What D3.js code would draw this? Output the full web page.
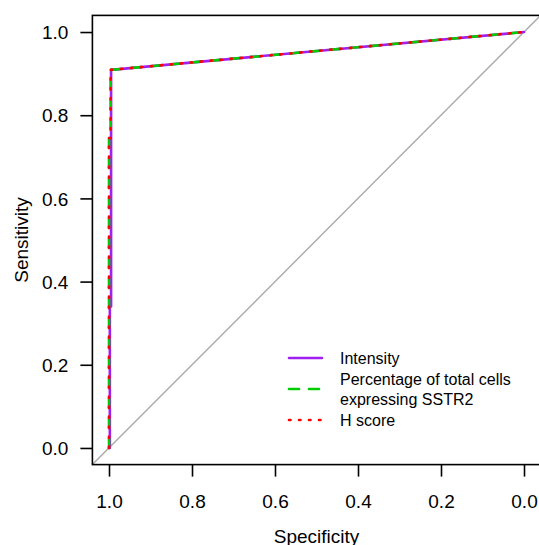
<!DOCTYPE html>
<html>
<head>
<meta charset="utf-8">
<script src="https://cdn.jsdelivr.net/npm/d3@7"></script>
<style>
  html, body { margin: 0; padding: 0; background: #fff; }
  svg { display: block; font-family: "Liberation Sans", Arial, sans-serif; }
</style>
</head>
<body>
<svg class="d3" width="539" height="545"></svg>
<script>
// Data (specificity / sensitivity pairs)
const tickValues = [0, 0.2, 0.4, 0.6, 0.8, 1.0];
const tickLabels = ['0.0', '0.2', '0.4', '0.6', '0.8', '1.0'];

const intensitySpec = [1, 0.998, 0.998, 0.995, 0.995, 0];
const intensitySens = [0, 0, 0.34, 0.34, 0.909, 1];

const percentSpec = [1, 1, 0.996, 0.996, 0];
const percentSens = [0, 0.745, 0.745, 0.909, 1];

const hscoreSpec = [1, 1, 0.996, 0.996, 0];
const hscoreSens = [0, 0.745, 0.745, 0.909, 1];

const seriesNames = [['Intensity'], ['Percentage of total cells', 'expressing SSTR2'], ['H score']];
const seriesColors = ['#a020f0', '#00cd00', '#ff0000'];
const seriesDash = [null, '10,10', '1.5,8.5'];

const svg = d3.select('svg.d3');
const plotLeft = 92.4, plotRight = 540.6, plotTop = 15.4, plotBottom = 464.6;

// R-style 4% padding on both axes; specificity runs backwards
const x = d3.scaleLinear().domain([1.04, -0.04]).range([plotLeft, plotRight]);
const y = d3.scaleLinear().domain([-0.04, 1.04]).range([plotBottom, plotTop]);

// reference diagonal
svg.append('line')
    .attr('x1', x(1.04)).attr('y1', y(-0.04))
    .attr('x2', x(-0.04)).attr('y2', y(1.04))
    .attr('stroke', '#aaaaaa')
    .attr('stroke-width', 1.4);

// curves
const series = [
    d3.zip(intensitySpec, intensitySens),
    d3.zip(percentSpec, percentSens),
    d3.zip(hscoreSpec, hscoreSens)
];
const line = d3.line().x(d => x(d[0])).y(d => y(d[1]));

series.forEach((pts, i) => {
    svg.append('path')
        .attr('d', line(pts))
        .attr('fill', 'none')
        .attr('stroke', seriesColors[i])
        .attr('stroke-width', 2.6)
        .attr('stroke-linecap', 'round')
        .attr('stroke-linejoin', 'round')
        .attr('stroke-dasharray', seriesDash[i]);
});

// box
svg.append('rect')
    .attr('x', plotLeft).attr('y', plotTop)
    .attr('width', plotRight - plotLeft).attr('height', plotBottom - plotTop)
    .attr('fill', 'none')
    .attr('stroke', 'black')
    .attr('stroke-width', 1.6);

// axes
const xAxis = svg.append('g')
    .attr('transform', `translate(0,${plotBottom})`)
    .call(d3.axisBottom(x).tickValues(tickValues).tickFormat((d, i) => tickLabels[i]).tickSize(12).tickPadding(19));
const yAxis = svg.append('g')
    .attr('transform', `translate(${plotLeft},0)`)
    .call(d3.axisLeft(y).tickValues(tickValues).tickFormat((d, i) => tickLabels[i]).tickSize(12).tickPadding(12));

[xAxis, yAxis].forEach(g => {
    g.select('.domain').remove();
    g.selectAll('.tick line').attr('stroke', 'black').attr('stroke-width', 1.6);
    g.selectAll('.tick text')
        .attr('fill', 'black')
        .style('font-size', '19px')
        .style('font-family', '"Liberation Sans", Arial, sans-serif');
});
xAxis.selectAll('.tick text').attr('dy', null).attr('y', 43);
yAxis.selectAll('.tick text').attr('dy', '0.35em');

// axis titles
svg.append('text')
    .attr('x', (plotLeft + plotRight) / 2)
    .attr('y', 543)
    .attr('text-anchor', 'middle')
    .style('font-size', '19px')
    .text('Specificity');
svg.append('text')
    .attr('transform', `translate(28,${(plotTop + plotBottom) / 2}) rotate(-90)`)
    .attr('text-anchor', 'middle')
    .style('font-size', '19px')
    .text('Sensitivity');

// legend
const legendRows = [358, 389, 420];
const legend = svg.append('g');
seriesNames.forEach((lines, i) => {
    const cy = legendRows[i];
    legend.append('line')
        .attr('x1', 289).attr('x2', 322)
        .attr('y1', cy).attr('y2', cy)
        .attr('stroke', seriesColors[i])
        .attr('stroke-width', 2.6)
        .attr('stroke-linecap', 'round')
        .attr('stroke-dasharray', seriesDash[i]);
    lines.forEach((t, j) => {
        legend.append('text')
            .attr('x', 340)
            .attr('y', cy - (lines.length - 1) * 10 + j * 20)
            .attr('dy', '0.35em')
            .style('font-size', '16px')
            .text(t);
    });
});
</script>
</body>
</html>
